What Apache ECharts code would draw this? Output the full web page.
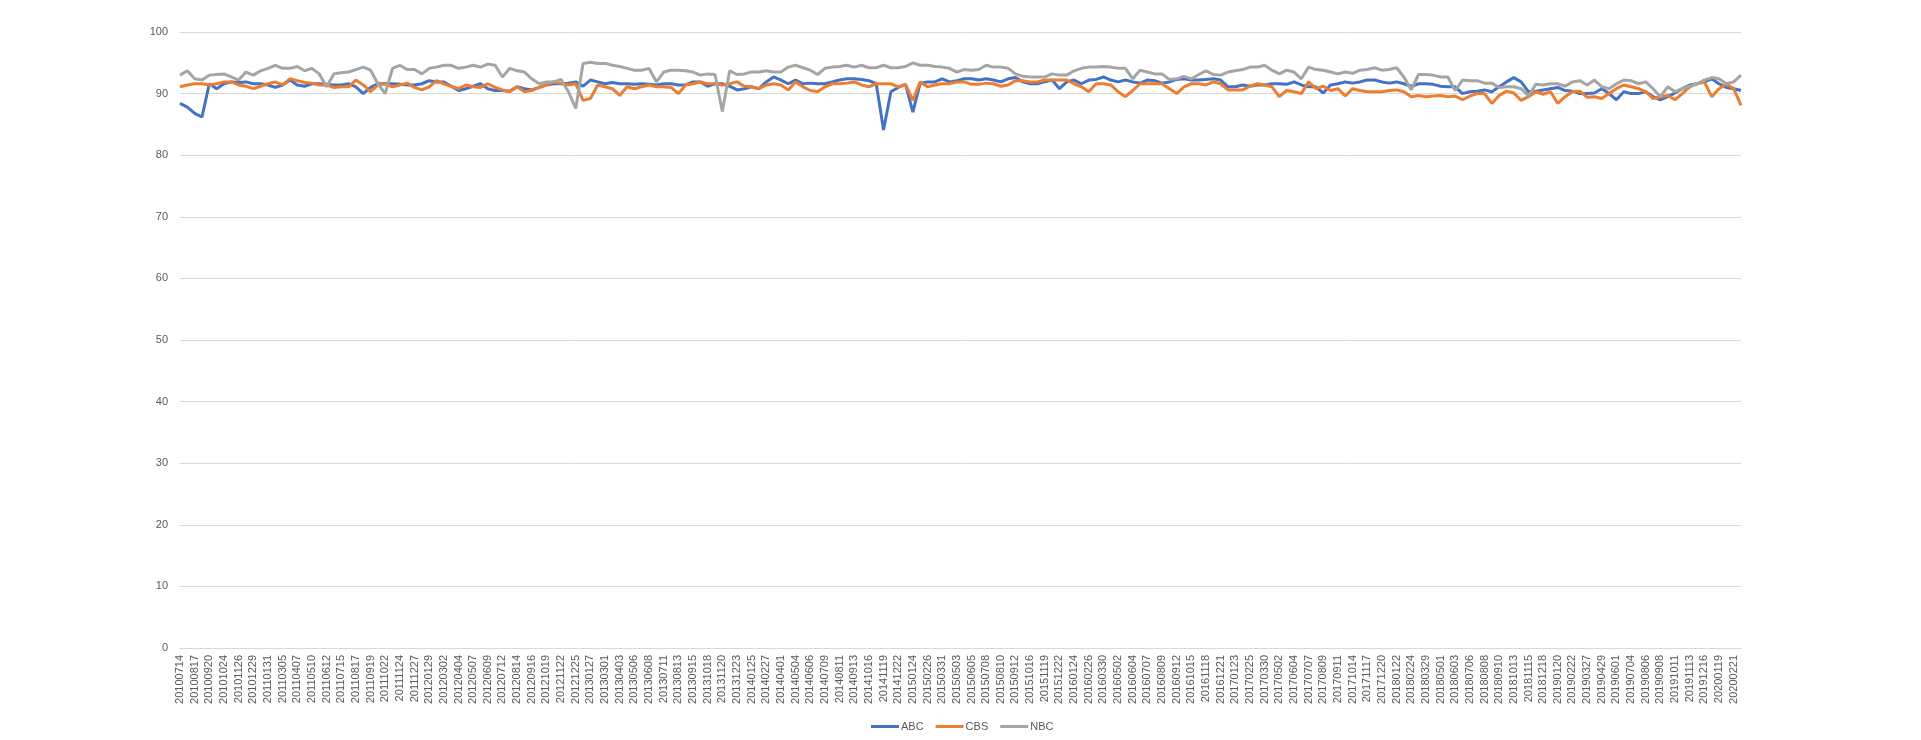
<!DOCTYPE html>
<html>
<head>
<meta charset="utf-8">
<script src="https://cdn.jsdelivr.net/npm/echarts@6/dist/echarts.min.js"></script>
<style>
html,body{margin:0;padding:0;background:#fff;}
#chart{width:1921px;height:740px;}
</style>
</head>
<body>
<div id="chart"></div>
<script>
// Labelled dates shown on the x axis
var tickLabels = ["20100714","20100817","20100920","20101024","20101126","20101229",
"20110131","20110305","20110407","20110510","20110612","20110715","20110817","20110919","20111022","20111124","20111227",
"20120129","20120302","20120404","20120507","20120609","20120712","20120814","20120916","20121019","20121122","20121225",
"20130127","20130301","20130403","20130506","20130608","20130711","20130813","20130915","20131018","20131120","20131223",
"20140125","20140227","20140401","20140504","20140606","20140709","20140811","20140913","20141016","20141119","20141222",
"20150124","20150226","20150331","20150503","20150605","20150708","20150810","20150912","20151016","20151119","20151222",
"20160124","20160226","20160330","20160502","20160604","20160707","20160809","20160912","20161015","20161118","20161221",
"20170123","20170225","20170330","20170502","20170604","20170707","20170809","20170911","20171014","20171117","20171220",
"20180122","20180224","20180329","20180501","20180603","20180706","20180808","20180910","20181013","20181115","20181218",
"20190120","20190222","20190327","20190429","20190601","20190704","20190806","20190908","20191011","20191113","20191216",
"20200119","20200221"];
// Unlabelled dates between the labelled ones
var midDates = ["20100731","20100903","20101007","20101109","20101212",
"20110115","20110216","20110321","20110423","20110526","20110628","20110731","20110902","20111005","20111107","20111210",
"20120112","20120215","20120318","20120420","20120523","20120625","20120728","20120830","20121002","20121104","20121208",
"20130110","20130212","20130317","20130419","20130522","20130624","20130727","20130829","20131001","20131103","20131206",
"20140108","20140210","20140315","20140417","20140520","20140622","20140725","20140827","20140929","20141101","20141205",
"20150107","20150209","20150314","20150416","20150519","20150621","20150724","20150826","20150929","20151102","20151205",
"20160107","20160209","20160313","20160415","20160518","20160620","20160723","20160825","20160928","20161031","20161204",
"20170106","20170208","20170313","20170415","20170518","20170620","20170723","20170825","20170927","20171030","20171203",
"20180105","20180207","20180312","20180414","20180517","20180619","20180722","20180824","20180926","20181029","20181201",
"20190103","20190205","20190310","20190412","20190515","20190617","20190720","20190822","20190924","20191027","20191129",
"20200101","20200204","20200306"];

var abc = [
88.4, 87.8, 86.8, 86.2, 91.6, 90.8, 91.6, 91.9, 91.8, 91.9,
91.6, 91.6, 91.4, 91.0, 91.4, 92.2, 91.4, 91.2, 91.6, 91.6,
91.5, 91.4, 91.4, 91.6, 91.1, 90.0, 91.0, 91.6, 91.6, 91.6,
91.5, 91.4, 91.4, 91.6, 92.1, 91.9, 91.9, 91.2, 90.5, 90.8,
91.2, 91.6, 90.8, 90.5, 90.5, 90.4, 91.1, 90.8, 90.6, 91.0,
91.4, 91.6, 91.6, 91.7, 91.9, 91.2, 92.2, 91.9, 91.6, 91.8,
91.6, 91.6, 91.5, 91.6, 91.5, 91.4, 91.6, 91.6, 91.4, 91.4,
91.9, 91.9, 91.2, 91.6, 91.6, 91.2, 90.6, 90.8, 91.1, 90.8,
91.9, 92.7, 92.2, 91.6, 92.2, 91.6, 91.7, 91.6, 91.6, 91.9,
92.2, 92.4, 92.4, 92.3, 92.1, 91.6, 84.1, 90.3, 91.0, 91.5,
87.0, 91.7, 91.9, 91.9, 92.4, 91.9, 92.1, 92.4, 92.4, 92.2,
92.4, 92.2, 91.9, 92.4, 92.6, 91.9, 91.6, 91.6, 91.9, 92.2,
90.8, 91.9, 92.2, 91.6, 92.2, 92.3, 92.7, 92.2, 91.9, 92.2,
91.9, 91.7, 92.2, 92.1, 91.7, 91.9, 92.3, 92.4, 92.2, 92.2,
92.3, 92.4, 92.2, 91.1, 91.1, 91.4, 91.2, 91.4, 91.4, 91.6,
91.6, 91.5, 91.9, 91.4, 91.1, 91.1, 90.1, 91.4, 91.6, 91.9,
91.7, 91.9, 92.2, 92.2, 91.9, 91.7, 91.9, 91.6, 91.2, 91.6,
91.6, 91.5, 91.2, 91.1, 91.1, 90.0, 90.3, 90.4, 90.6, 90.3,
91.1, 91.9, 92.6, 91.9, 90.3, 90.4, 90.6, 90.8, 91.0, 90.5,
90.4, 90.0, 90.0, 90.1, 90.8, 90.0, 89.0, 90.3, 90.0, 90.0,
90.3, 89.5, 89.0, 89.5, 90.1, 90.8, 91.4, 91.6, 91.9, 92.4,
91.6, 91.0, 90.8, 90.5];

var cbs = [
91.1, 91.4, 91.6, 91.6, 91.4, 91.6, 91.9, 91.9, 91.4, 91.2,
90.8, 91.2, 91.6, 91.9, 91.4, 92.4, 92.1, 91.8, 91.7, 91.4,
91.4, 91.0, 91.1, 91.1, 92.2, 91.4, 90.3, 91.4, 91.6, 91.1,
91.4, 91.7, 91.0, 90.6, 91.1, 92.1,
91.6, 91.2, 90.8, 91.4, 91.1, 91.0, 91.6, 91.0, 90.6, 90.3,
91.1, 90.3, 90.5, 91.0, 91.4, 91.9, 91.6, 91.4, 91.6, 88.9,
89.2, 91.4, 91.1, 90.8, 89.7, 91.1, 90.8, 91.1, 91.4, 91.1,
91.1, 91.0, 90.0, 91.4, 91.6, 91.9,
91.6, 91.6, 91.4, 91.6, 91.9, 91.2, 91.1, 90.8, 91.4, 91.6,
91.4, 90.6, 91.9, 91.1, 90.5, 90.3, 91.1, 91.6, 91.6, 91.7,
91.9, 91.4, 91.1, 91.6, 91.6, 91.6, 91.1, 91.5, 88.9, 91.9,
91.1, 91.4, 91.6, 91.6, 91.9,
91.9, 91.5, 91.5, 91.7, 91.6, 91.2, 91.4, 92.1, 92.1, 91.9,
91.9, 92.2, 92.2, 92.2, 92.2, 91.6, 91.1, 90.3, 91.6, 91.6,
91.4, 90.3, 89.5, 90.5, 91.6, 91.6, 91.6, 91.6, 90.8, 90.0,
91.1, 91.6, 91.6, 91.4, 91.9, 91.6,
90.6, 90.6, 90.6, 91.2, 91.6, 91.4, 91.1, 89.5, 90.5, 90.3,
90.0, 91.9, 90.8, 91.2, 90.5, 90.8, 89.6, 90.8, 90.5, 90.3,
90.3, 90.3, 90.5, 90.6, 90.3, 89.5, 89.7, 89.5, 89.6, 89.7,
89.5, 89.6, 89.0, 89.6, 90.0,
90.0, 88.4, 89.7, 90.4, 90.1, 88.9, 89.5, 90.3, 89.9, 90.3,
88.4, 89.5, 90.3, 90.4, 89.4, 89.5, 89.2, 90.0, 90.8, 91.4,
91.1, 90.8, 90.3, 89.2, 89.5, 89.7, 89.0, 90.0, 91.1, 91.6,
91.9, 89.5, 90.8, 91.6, 90.8, 88.1];

var nbc = [
93.0, 93.7, 92.4, 92.2, 93.0, 93.1, 93.2, 92.7, 92.2, 93.5,
93.0, 93.7, 94.1, 94.6, 94.1, 94.1, 94.4, 93.7, 94.1, 93.2,
91.1, 93.2, 93.4, 93.5, 93.9, 94.3, 93.8, 91.6, 90.0, 94.1,
94.6, 93.9, 93.9, 93.2, 94.1, 94.3,
94.6, 94.6, 94.1, 94.3, 94.6, 94.3, 94.8, 94.6, 92.7, 94.1,
93.7, 93.5, 92.4, 91.6, 91.9, 91.9, 92.3, 90.3, 87.6, 94.9,
95.1, 94.9, 94.9, 94.6, 94.4, 94.1, 93.8, 93.8, 94.1, 91.9,
93.5, 93.8, 93.8, 93.7, 93.5, 93.0,
93.2, 93.1, 87.1, 93.7, 93.1, 93.2, 93.5, 93.5, 93.7, 93.5,
93.5, 94.3, 94.6, 94.2, 93.8, 93.1, 94.1, 94.3, 94.4, 94.6,
94.3, 94.6, 94.2, 94.2, 94.6, 94.2, 94.2, 94.4, 95.0, 94.6,
94.6, 94.4, 94.3, 94.1, 93.5,
93.9, 93.8, 93.9, 94.6, 94.3, 94.3, 94.1, 93.2, 92.8, 92.7,
92.7, 92.7, 93.2, 93.0, 93.0, 93.7, 94.1, 94.3, 94.3, 94.4,
94.3, 94.1, 94.1, 92.4, 93.8, 93.5, 93.2, 93.2, 92.3, 92.4,
92.8, 92.4, 93.1, 93.7, 93.1, 93.0,
93.5, 93.7, 93.9, 94.3, 94.3, 94.6, 93.8, 93.2, 93.8, 93.5,
92.4, 94.3, 93.9, 93.8, 93.5, 93.2, 93.5, 93.3, 93.8, 93.9,
94.2, 93.8, 93.9, 94.2, 92.7, 90.6, 93.1, 93.1, 93.0, 92.7,
92.7, 90.5, 92.2, 92.1, 92.1,
91.7, 91.7, 91.0, 91.1, 91.1, 90.8, 89.6, 91.5, 91.4, 91.6,
91.6, 91.2, 91.9, 92.1, 91.4, 92.2, 91.1, 90.8, 91.6, 92.2,
92.1, 91.6, 91.9, 90.8, 89.5, 91.1, 90.3, 90.8, 91.2, 91.6,
92.2, 92.6, 92.4, 91.6, 91.9, 93.0];

var seriesNames = ["ABC", "CBS", "NBC"];
var seriesColors = ["#4472C4", "#ED7D31", "#A5A5A5"];

var categories = [];
for (var i = 0; i < tickLabels.length; i++) {
  categories.push(tickLabels[i]);
  if (i < midDates.length) categories.push(midDates[i]);
}

var chart = echarts.init(document.getElementById('chart'), null, {renderer: 'canvas'});
var font = "'Liberation Sans', Arial, sans-serif";
var values = [abc, cbs, nbc];
chart.setOption({
  animation: false,
  backgroundColor: '#ffffff',
  grid: {left: 180, right: 180, top: 32, bottom: 92, containLabel: false},
  legend: {
    left: 866, top: 716,
    icon: 'rect', itemWidth: 28, itemHeight: 3, itemGap: 12,
    textStyle: {color: '#595959', fontSize: 11, fontFamily: font, padding: [0, 0, 0, -3]},
    data: seriesNames
  },
  xAxis: {
    type: 'category',
    data: categories,
    boundaryGap: false,
    axisLine: {lineStyle: {color: '#d9d9d9', width: 1}},
    axisTick: {show: false},
    axisLabel: {interval: 1, rotate: 90, margin: 7, color: '#595959', fontSize: 11, fontFamily: font},
    splitLine: {show: false}
  },
  yAxis: {
    type: 'value',
    min: 0, max: 100, interval: 10,
    axisLine: {show: false},
    axisTick: {show: false},
    axisLabel: {color: '#595959', fontSize: 11, fontFamily: font, margin: 12},
    splitLine: {lineStyle: {color: '#d9d9d9', width: 1}}
  },
  series: seriesNames.map(function (n, k) {
    return {
      name: n, type: 'line', data: values[k],
      showSymbol: false, symbol: 'none',
      lineStyle: {color: seriesColors[k], width: 3},
      itemStyle: {color: seriesColors[k]}
    };
  })
});
</script>
</body>
</html>
